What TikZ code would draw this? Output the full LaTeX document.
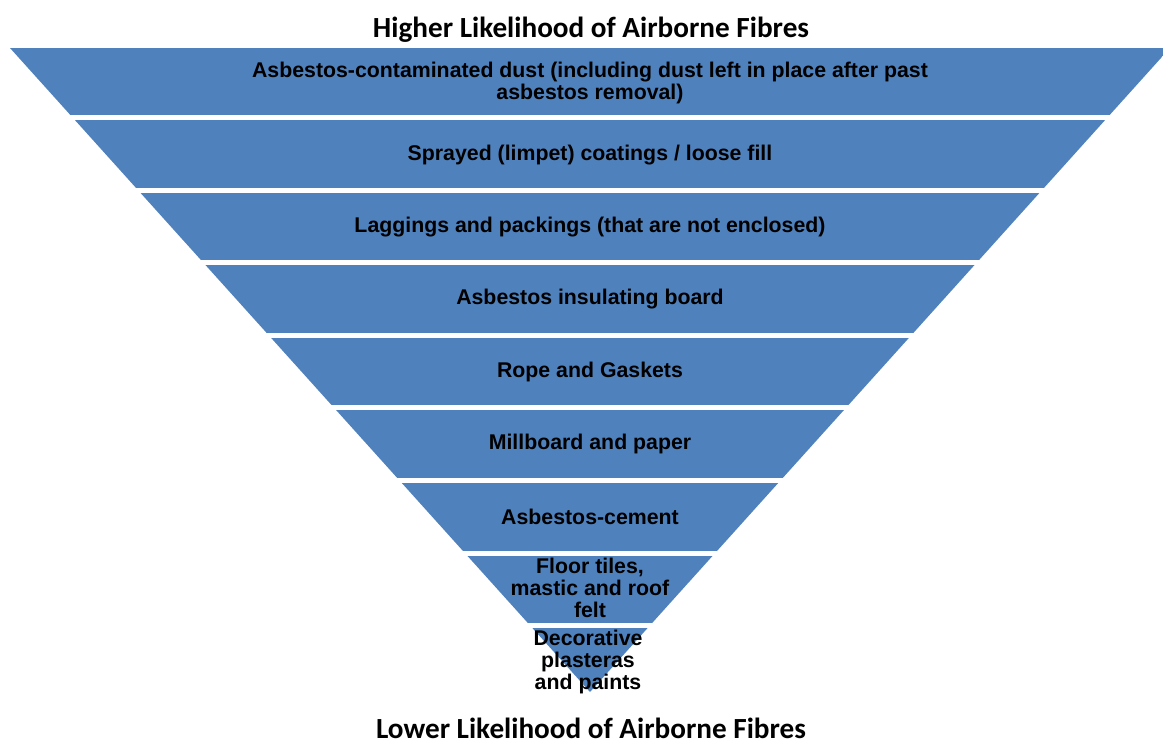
\documentclass[tikz,border=0pt]{standalone}
\usepackage{fontspec}
\setmainfont{Liberation Sans}
\newfontfamily\titlefont{Carlito}
\definecolor{bandblue}{HTML}{4F81BD}
\begin{document}
\begin{tikzpicture}[x=1pt,y=-1pt,
  bandtext/.style={font=\fontsize{21.3}{21.8}\selectfont\bfseries, text=black, align=center, inner sep=0pt},
  titletext/.style={font=\titlefont\fontsize{29.2}{31}\selectfont\bfseries, text=black, inner sep=0pt, anchor=base}]
\useasboundingbox (0,0) rectangle (1163,743);
\begin{scope}
  \clip (10,48) -- (1170,48) -- (590,692) -- cycle;
  \foreach \k in {0,...,8} {
    \fill[bandblue] (0,{48+72.5*\k}) rectangle (1200,{48+72.5*\k+67.5});
  }
\end{scope}
\node[titletext] (top) at (591,38) {Higher Likelihood of Airborne Fibres};
\node[titletext] (bottom) at (591,738) {Lower Likelihood of Airborne Fibres};
\node[bandtext] (b1) at (590,83) {Asbestos-contaminated dust (including dust left in place after past\\asbestos removal)};
\node[bandtext] (b2) at (590,155) {Sprayed (limpet) coatings / loose fill};
\node[bandtext] (b3) at (590,227) {Laggings and packings (that are not enclosed)};
\node[bandtext] (b4) at (590,299) {Asbestos insulating board};
\node[bandtext] (b5) at (590,372) {Rope and Gaskets};
\node[bandtext] (b6) at (590,444) {Millboard and paper};
\node[bandtext] (b7) at (590,517) {Asbestos-cement};
\node[bandtext] (b8) at (590,588) {Floor tiles,\\mastic and roof\\felt};
\node[bandtext] (b9) at (588,662) {Decorative\\plasteras\\and paints};
\end{tikzpicture}
\end{document}
